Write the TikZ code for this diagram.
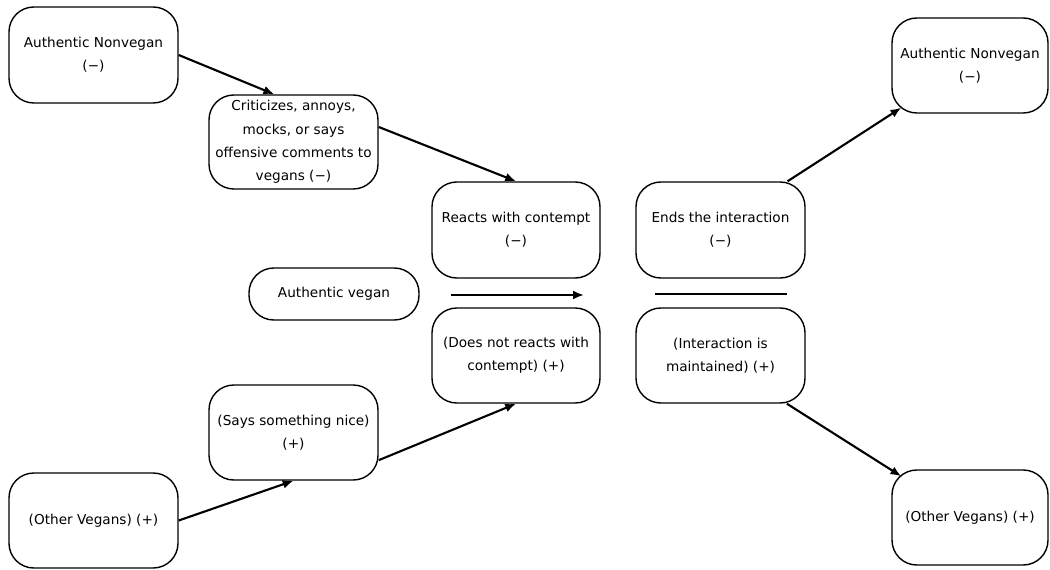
\documentclass[tikz,border=0pt]{standalone}
\usepackage{fontspec}
\setmainfont{DejaVu Sans}
\usepackage{tikz}
\usetikzlibrary{positioning, arrows.meta}

\begin{document}
\begin{tikzpicture}[
    box/.style={draw=black, line width=1pt, rounded corners=0.62cm, align=center,
        minimum width=4.225cm, minimum height=2.375cm, inner sep=2pt,
        font=\fontsize{9.7}{16.5}\selectfont},
    arr/.style={-{Latex[length=0.27cm, width=0.22cm]}, line width=1.5pt}
]
            \useasboundingbox (0, 0) rectangle (26.25, 14.225);

            % left side
            \node[box, minimum height=2.4cm] (anvL) at (2.3375, 12.85) {Authentic Nonvegan\\(−)};
            \node[box, minimum height=2.35cm] (crit) at (7.3375, 10.675) {Criticizes, annoys,\\mocks, or says\\offensive comments to\\vegans (−)};
            \node[box, minimum height=1.3cm, minimum width=4.25cm] (vegan) at (8.35, 6.875) {Authentic vegan};
            \node[box] (says) at (7.3375, 3.4125) {(Says something nice)\\(+)};
            \node[box] (ovL) at (2.3375, 1.2125) {(Other Vegans) (+)};

            % middle
            \node[box, minimum width=4.2cm, minimum height=2.4cm] (reacts) at (12.9, 8.475) {Reacts with contempt\\(−)};
            \node[box, minimum width=4.2cm] (doesnot) at (12.9, 5.3375) {(Does not reacts with\\contempt) (+)};
            \node[box, minimum height=2.4cm] (ends) at (18.0125, 8.475) {Ends the interaction\\(−)};
            \node[box] (maint) at (18.0125, 5.3375) {(Interaction is\\maintained) (+)};

            % right side
            \node[box, minimum width=3.9cm] (anvR) at (24.25, 12.5875) {Authentic Nonvegan\\(−)};
            \node[box, minimum width=3.9cm] (ovR) at (24.25, 1.2875) {(Other Vegans) (+)};

            \coordinate (a1) at (11.275, 6.85);
            \coordinate (a2) at (14.6, 6.85);
            \coordinate (l1) at (16.375, 6.875);
            \coordinate (l2) at (19.675, 6.875);

            \draw[arr] (anvL.east) -- (crit.112);
            \draw[arr] (crit.10) -- (reacts.north);
            \draw[arr] (ovL.east) -- (says.south);
            \draw[arr] (says.-18) -- (doesnot.south);
            \draw[arr] (a1) -- (a2);
            \draw[line width=1.5pt] (l1) -- (l2);
            \draw[arr] (ends.36) -- ([shift={(0.25, 0.15)}]anvR.south west);
            \draw[arr] (maint.-36) -- ([shift={(0.25, -0.175)}]ovR.north west);
        \end{tikzpicture}
\end{document}
